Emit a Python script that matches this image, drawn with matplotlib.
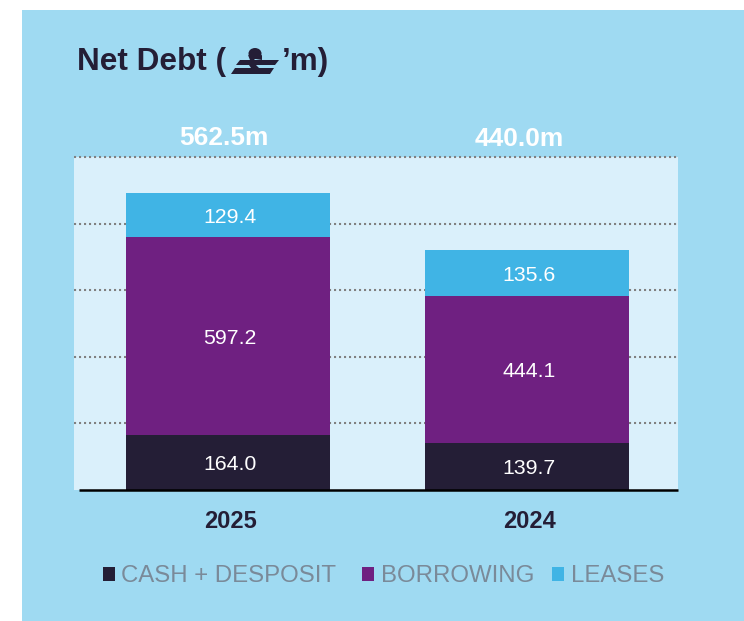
import matplotlib
matplotlib.use("Agg")
import matplotlib.pyplot as plt
from matplotlib.patches import Rectangle, Polygon, Ellipse
from matplotlib.transforms import Affine2D

W, H = 744, 621
DARK = "#241E36"
PURPLE = "#6F2081"
LIGHT = "#40B4E5"
PANEL = "#9FDAF2"
PLOT = "#DAF0FB"
GREY = "#7A8A99"

years = ["2025", "2024"]
cash = [164.0, 139.7]
borrowing = [597.2, 444.1]
leases = [129.4, 135.6]
totals = ["562.5m", "440.0m"]
legend_labels = ["CASH + DESPOSIT", "BORROWING", "LEASES"]

plt.rcParams["font.family"] = ["Liberation Sans", "DejaVu Sans"]
fig = plt.figure(figsize=(W / 100, H / 100), dpi=100, facecolor="white")
px = Affine2D().scale(1, -1).translate(0, H)  # reference pixel coords

fig.add_artist(Rectangle((22, 10), 722, 611, transform=px, fc=PANEL, ec="none", zorder=-5))

ax = fig.add_axes([74 / W, 1 - 490 / H, 604 / W, 333 / H])
ax.set_facecolor(PLOT)
ax.set_xlim(-0.515, 1.505)
ax.set_ylim(0, 1000)
for s in ax.spines.values():
    s.set_visible(False)
ax.set_yticks([200, 400, 600, 800, 1000])
ax.tick_params(left=False, bottom=False, labelleft=False, labelbottom=False)
ax.grid(axis="y", color="#808080", lw=1.5, ls=(0, (1, 1.4)), zorder=1, clip_on=False)
ax.set_axisbelow(True)

x = [0, 1]
w = 0.682
bottoms2 = [a + b for a, b in zip(cash, borrowing)]
ax.bar(x, cash, w, color=DARK, zorder=2)
ax.bar(x, borrowing, w, bottom=cash, color=PURPLE, zorder=2)
ax.bar(x, leases, w, bottom=bottoms2, color=LIGHT, zorder=2)

total_offsets = [(-3.3, 14), (-5.8, 13.3)]   # points, from the bar centre at the plot top
for i in x:
    base = 0
    for vals in (cash, borrowing, leases):
        ax.annotate(f"{vals[i]:.1f}", (i, base + vals[i] / 2), xytext=(1.2, -1.5),
                    textcoords="offset points", ha="center", va="center",
                    color="white", fontsize=15.3, zorder=3)
        base += vals[i]
    ax.annotate(years[i], (i, 0), xytext=(1.5, -23), textcoords="offset points",
                ha="center", va="center", color=DARK, fontsize=17,
                fontweight="bold", annotation_clip=False)
    ax.annotate(totals[i], (i, 1000), xytext=total_offsets[i], textcoords="offset points",
                ha="center", va="center", color="white", fontsize=19,
                fontweight="bold", annotation_clip=False)

# baseline
fig.add_artist(plt.Line2D([79, 678], [489.5, 489.5], transform=px, color="black",
                          lw=1.8, solid_capstyle="butt"))

# title
fig.text(77 / W, 1 - 62 / H, "Net Debt (", color=DARK, fontsize=22.7, fontweight="bold",
         ha="left", va="center")
fig.text(282 / W, 1 - 62 / H, "\u2019m)", color=DARK, fontsize=22.7, fontweight="bold",
         ha="left", va="center")
# currency glyph in title
fig.add_artist(Polygon([(240, 60), (279, 60), (275, 65), (236, 65)], transform=px, fc=DARK, ec="none"))
fig.add_artist(Polygon([(235, 68), (274, 68), (270, 74), (231, 74)], transform=px, fc=DARK, ec="none"))
fig.add_artist(Polygon([(250, 60), (248, 55), (256, 57), (253, 62), (259, 68), (251, 68), (247, 62)],
                       transform=px, fc=DARK, ec="none"))
fig.add_artist(Ellipse((255, 53.5), 13, 11, transform=px, fc=DARK, ec="none"))
fig.add_artist(Polygon([(255, 57), (262, 55), (262, 60), (256, 59)], transform=px, fc=DARK, ec="none"))

# legend
for label, colour, sx, tx in zip(legend_labels, [DARK, PURPLE, LIGHT], [103, 362, 552], [121, 381, 571]):
    fig.add_artist(Rectangle((sx, 567), 12, 14, transform=px, fc=colour, ec="none"))
    fig.text(tx / W, 1 - 576 / H, label, color=GREY, fontsize=17.3, ha="left", va="center")

fig.savefig("out.png", dpi=100, facecolor="white")
